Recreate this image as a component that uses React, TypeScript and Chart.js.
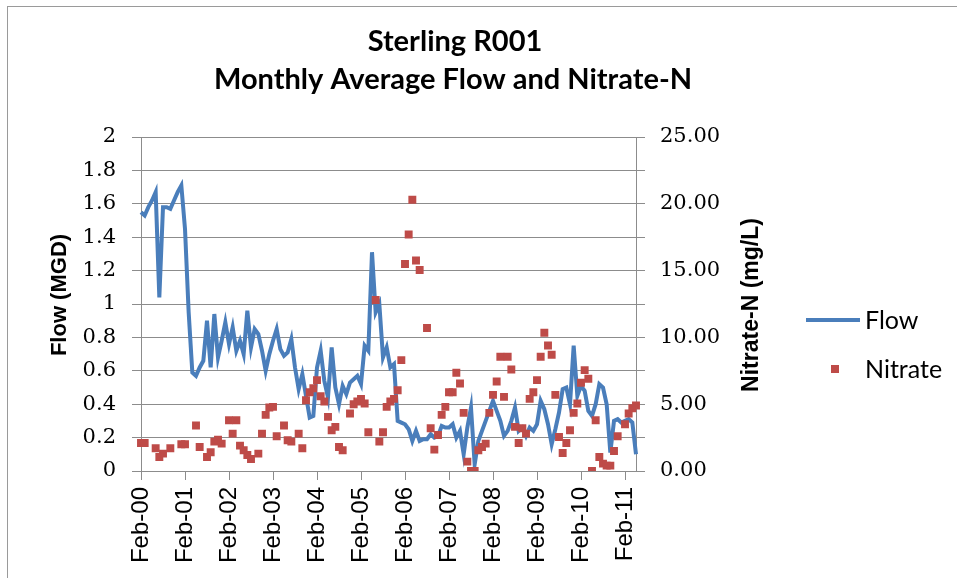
import React, { useEffect, useRef } from "react";
import { Chart, registerables } from "chart.js";

Chart.register(...registerables);

const TITLE_LINES = ["Sterling R001", "Monthly Average Flow and Nitrate-N"];
const Y_LEFT_TITLE = "Flow (MGD)";
const Y_RIGHT_TITLE = "Nitrate-N (mg/L)";
const SERIES_NAMES = ["Flow", "Nitrate"];

const MONTH_NAMES = ["Jan", "Feb", "Mar", "Apr", "May", "Jun", "Jul", "Aug", "Sep", "Oct", "Nov", "Dec"];
const FIRST_YEAR = 2000;
const FIRST_MONTH = 1; // Feb
const MONTH_COUNT = 136; // Feb-00 .. May-11

const CATEGORIES: string[] = Array.from({ length: MONTH_COUNT }, (_, i) => {
  const m = (FIRST_MONTH + i) % 12;
  const y = FIRST_YEAR + Math.floor((FIRST_MONTH + i) / 12);
  return `${MONTH_NAMES[m]}-${String(y % 100).padStart(2, "0")}`;
});

// Monthly average flow (MGD)
const FLOW: number[] = [
  1.55, 1.53, 1.58, 1.62, 1.67, 1.04, 1.58, 1.58, 1.57, 1.62, 1.67, 1.71,
  1.45, 0.95, 0.59, 0.57, 0.62, 0.66, 0.90, 0.62, 0.94, 0.68, 0.78, 0.89,
  0.76, 0.86, 0.72, 0.78, 0.70, 0.96, 0.74, 0.85, 0.82, 0.72, 0.60, 0.70,
  0.78, 0.85, 0.73, 0.69, 0.71, 0.79, 0.62, 0.49, 0.58, 0.45, 0.32, 0.33,
  0.62, 0.72, 0.54, 0.44, 0.74, 0.50, 0.40, 0.51, 0.46, 0.53, 0.55, 0.57,
  0.52, 0.75, 0.72, 1.31, 0.95, 1.00, 0.68, 0.74, 0.62, 0.64, 0.30, 0.29,
  0.28, 0.25, 0.18, 0.24, 0.18, 0.19, 0.19, 0.22, 0.20, 0.21, 0.27, 0.26,
  0.26, 0.28, 0.20, 0.24, 0.10, 0.26, 0.38, 0.04, 0.18, 0.24, 0.30, 0.36,
  0.42, 0.36, 0.30, 0.21, 0.24, 0.30, 0.38, 0.24, 0.26, 0.21, 0.26, 0.24,
  0.28, 0.42, 0.37, 0.28, 0.16, 0.25, 0.35, 0.49, 0.50, 0.40, 0.75, 0.45,
  0.51, 0.48, 0.36, 0.33, 0.40, 0.52, 0.50, 0.40, 0.11, 0.30, 0.31, 0.29,
  0.30, 0.31, 0.29, 0.10,
];

// Monthly nitrate-N (mg/L); null = no sample
const NITRATE: (number | null)[] = [
  2.1, 2.1, null, null, 1.7, 1.05, 1.3, null, 1.7, null, null, 2.0,
  2.0, null, null, 3.4, 1.8, null, 1.05, 1.4, 2.2, 2.35, 2.05, null,
  3.8, 2.8, 3.8, 1.9, 1.55, 1.2, 0.9, null, 1.3, 2.8, 4.2, 4.75,
  4.8, 2.6, null, 3.4, 2.3, 2.2, null, 2.8, 1.7, 5.3, 5.9, 6.2,
  6.8, 5.6, 5.2, 4.05, 3.05, 3.3, 1.8, 1.55, null, 4.3, 5.0, 5.2,
  5.4, 5.05, 2.9, null, 12.8, 2.2, 2.9, 4.8, 5.2, 5.4, 6.05, 8.3,
  15.5, 17.7, 20.3, 15.75, 15.05, null, 10.7, 3.2, 1.6, 2.7, 4.2, 4.8,
  5.9, 5.9, 7.35, 6.55, 4.35, 0.7, 0.0, 0.0, 1.55, 1.8, 2.05, 4.35,
  5.7, 6.7, 8.55, 5.55, 8.55, 7.6, 3.3, 2.1, 3.2, 2.8, 5.4, 5.9,
  6.8, 8.55, 10.35, 9.4, 8.7, 5.7, 2.55, 1.35, 2.1, 3.05, 4.35, 5.05,
  6.6, 7.55, 6.9, 0.0, 3.8, 1.05, 0.55, 0.4, 0.4, 1.5, 2.6, null,
  3.5, 4.3, 4.7, 4.9,
];

const FLOW_COLOR = "#4A7EBB";
const NITRATE_COLOR = "#BE4B48";
const GRID = "#8C8C8C";
const SANS = "Lato";
const ARIAL = "Liberation Sans";
const SERIF = "DejaVu Serif";

const decorPlugin = {
  id: "decor",
  beforeDraw(chart: any) {
    const ctx = chart.ctx;
    ctx.save();
    ctx.fillStyle = "#ffffff";
    ctx.fillRect(0, 0, chart.width, chart.height);
    ctx.restore();
  },
  afterDraw(chart: any) {
    const ctx = chart.ctx;
    ctx.save();
    // outer frame
    ctx.strokeStyle = "#9A9A9A";
    ctx.lineWidth = 1;
    ctx.strokeRect(7.5, 6.5, 960, 600);
    // title
    ctx.fillStyle = "#000";
    ctx.textAlign = "center";
    ctx.textBaseline = "middle";
    ctx.font = `bold 29px ${SANS}`;
    ctx.fillText(TITLE_LINES[0], 455, 42);
    ctx.fillText(TITLE_LINES[1], 453, 80);
    // axis titles (rotated)
    ctx.font = `bold 22px ${ARIAL}`;
    ctx.save();
    ctx.translate(60, 295);
    ctx.rotate(-Math.PI / 2);
    ctx.fillText(Y_LEFT_TITLE, 0, 0);
    ctx.restore();
    ctx.font = `bold 23px ${ARIAL}`;
    ctx.save();
    ctx.translate(752, 305);
    ctx.rotate(-Math.PI / 2);
    ctx.fillText(Y_RIGHT_TITLE, 0, 0);
    ctx.restore();
    // legend
    ctx.strokeStyle = FLOW_COLOR;
    ctx.lineWidth = 4;
    ctx.beginPath();
    ctx.moveTo(806, 320);
    ctx.lineTo(860, 320);
    ctx.stroke();
    ctx.fillStyle = NITRATE_COLOR;
    ctx.fillRect(831, 365, 8, 8);
    ctx.fillStyle = "#000";
    ctx.textAlign = "left";
    ctx.font = `25px ${SANS}`;
    ctx.fillText(SERIES_NAMES[0], 865, 321);
    ctx.fillText(SERIES_NAMES[1], 865, 370);
    ctx.restore();
  },
};

export default function App() {
  const ref = useRef<HTMLCanvasElement>(null);
  useEffect(() => {
    if (!ref.current) return;
    const chart = new Chart(ref.current, {
      type: "line",
      data: {
        labels: CATEGORIES,
        datasets: [
          {
            label: SERIES_NAMES[1],
            data: NITRATE,
            yAxisID: "y1",
            showLine: false,
            pointStyle: "rect",
            pointRadius: 5.6,
            pointBackgroundColor: NITRATE_COLOR,
            pointBorderColor: NITRATE_COLOR,
            pointBorderWidth: 0,
            backgroundColor: NITRATE_COLOR,
            borderColor: NITRATE_COLOR,
          },
          {
            label: SERIES_NAMES[0],
            data: FLOW,
            yAxisID: "y",
            borderColor: FLOW_COLOR,
            backgroundColor: FLOW_COLOR,
            borderWidth: 4,
            pointRadius: 0,
            tension: 0,
            fill: false,
          },
        ],
      },
      options: {
        responsive: false,
        animation: false,
        layout: { padding: { left: 48, right: 192, top: 137, bottom: 0 } },
        plugins: {
          legend: { display: false },
          tooltip: { enabled: false },
          title: { display: false },
        },
        scales: {
          x: {
            type: "category",
            offset: false,
            grid: { drawOnChartArea: false, drawTicks: true, tickLength: 9, color: GRID },
            border: { color: GRID, width: 1 },
            ticks: {
              autoSkip: false,
              minRotation: 90,
              maxRotation: 90,
              padding: 7,
              color: "#000",
              font: { family: ARIAL, size: 24 },
              callback: (_v: any, i: number) => (i % 12 === 0 ? CATEGORIES[i] : null),
            },
            afterFit: (s: any) => {
              s.height = 107;
            },
          },
          y: {
            position: "left",
            min: 0,
            max: 2,
            ticks: {
              stepSize: 0.2,
              padding: 16,
              color: "#000",
              font: { family: SERIF, size: 21 },
              callback: (v: any) => String(Number(Number(v).toFixed(1))),
            },
            grid: { color: GRID, tickLength: 9 },
            border: { color: GRID },
            title: { display: false },
            afterFit: (s: any) => {
              s.width = 93;
            },
          },
          y1: {
            position: "right",
            min: 0,
            max: 25,
            ticks: {
              stepSize: 2.5,
              padding: 15,
              color: "#000",
              font: { family: SERIF, size: 21 },
              callback: (v: any) => (Math.abs(Number(v) % 5) < 1e-6 ? Number(v).toFixed(2) : ""),
            },
            grid: { drawOnChartArea: false, color: GRID, tickLength: 9 },
            border: { color: GRID },
            title: { display: false },
            afterFit: (s: any) => {
              s.width = 129;
            },
          },
        },
      } as any,
      plugins: [decorPlugin],
    });
    return () => chart.destroy();
  }, []);

  return (
    <div style={{ position: "absolute", left: 0, top: 0, width: 957, height: 578, background: "#fff" }}>
      <canvas ref={ref} width={957} height={578} style={{ display: "block" }} />
    </div>
  );
}
